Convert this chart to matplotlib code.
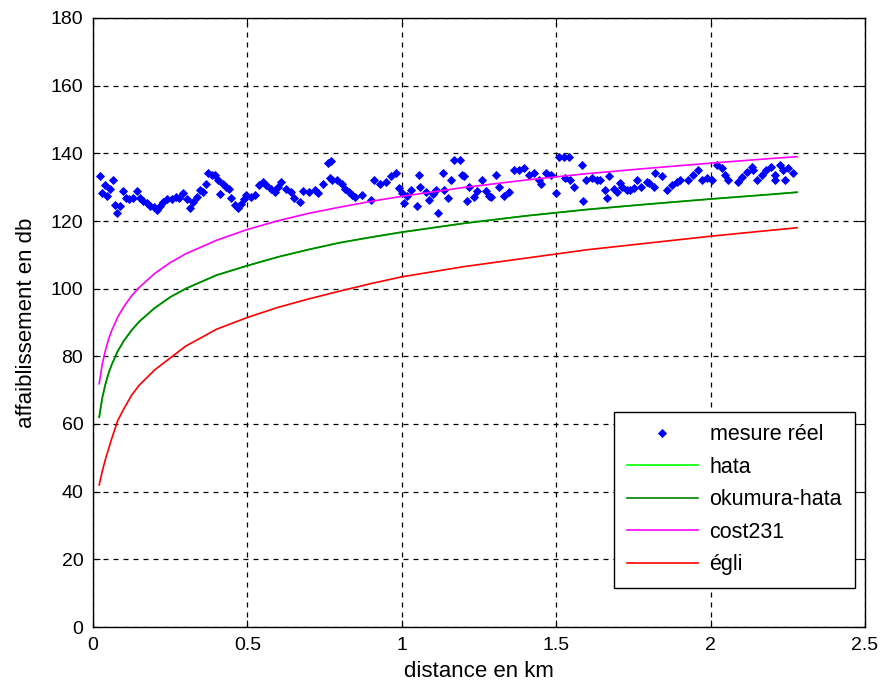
import numpy as np
import matplotlib
matplotlib.use("Agg")
import matplotlib.pyplot as plt

plt.rcParams['font.family'] = ['Liberation Sans', 'DejaVu Sans']

# measured points (distance km, attenuation dB)
meas_d = [0.022,0.030,0.038,0.046,0.055,0.064,0.070,0.077,0.087,0.098,0.108,0.118,0.130,0.141,0.152,0.163,0.174,0.185,0.196,0.206,
          0.216,0.228,0.240,0.255,0.268,0.280,0.292,0.305,0.314,0.325,0.336,0.346,0.357,0.366,0.374,0.384,
          0.394,0.405,0.411,0.420,0.430,0.440,0.448,0.459,0.470,0.480,0.490,0.496,0.512,0.523,0.538,0.550,0.560,0.575,0.588,0.598,
          0.610,0.626,0.640,0.650,0.669,0.680,0.698,0.718,0.730,0.745,0.761,0.766,0.770,
          0.775,0.790,0.806,0.817,0.828,0.838,0.850,0.870,0.900,0.910,0.930,0.948,0.965,0.981,0.992,1.000,1.008,1.018,1.030,1.050,
          1.057,1.060,1.078,1.089,1.100,1.110,1.116,1.132,1.138,1.148,
          1.160,1.169,1.190,1.195,1.200,1.210,1.218,1.234,1.245,1.261,1.272,1.283,1.290,1.304,1.315,1.330,1.347,1.363,1.380,1.396,
          1.412,1.428,1.444,1.450,1.466,1.482,1.498,1.509,1.525,1.530,
          1.540,1.546,1.557,1.584,1.586,1.595,1.616,1.632,1.643,1.659,1.665,1.670,1.686,1.697,1.708,1.713,1.729,1.740,1.751,1.762,
          1.773,1.794,1.800,1.816,1.821,1.843,1.859,1.875,1.891,1.902,
          1.928,1.944,1.960,1.971,1.987,2.003,2.020,2.036,2.047,2.057,2.090,2.101,2.117,2.133,2.138,2.149,2.165,2.181,2.197,2.208,
          2.210,2.224,2.235,2.240,2.251,2.267]
meas_v = [133.2,128.2,130.5,127.5,129.5,132.0,124.8,122.3,124.3,129.0,126.8,126.5,126.8,129.0,126.7,126.0,125.2,124.5,124.0,123.3,
          124.3,125.7,126.4,126.5,127.0,126.8,128.2,126.5,123.8,125.5,127.0,129.2,128.5,131.0,134.1,133.5,
          133.6,132.0,128.0,131.0,130.0,129.5,126.7,124.8,123.8,125.0,126.5,127.7,127.2,127.7,130.5,131.6,130.6,129.6,128.7,130.0,
          131.6,129.6,128.7,126.7,125.7,129.0,128.7,129.2,128.2,131.0,137.0,132.6,137.6,
          132.0,132.0,131.0,129.6,128.7,127.7,127.2,127.7,126.2,132.0,131.0,131.6,133.2,134.1,129.7,128.2,125.2,127.5,129.2,124.3,
          133.6,130.1,128.7,126.2,128.0,129.2,122.3,134.1,129.2,126.7,
          132.0,138.1,138.0,133.6,133.2,126.0,130.0,127.0,129.0,132.0,129.0,127.5,127.0,133.6,130.0,127.5,128.6,135.0,135.0,135.6,
          133.6,134.1,132.0,131.0,134.1,133.6,128.2,139.0,139.0,132.6,
          139.0,132.0,130.1,136.6,126.0,132.0,132.6,132.0,132.0,129.2,126.7,133.2,129.6,128.7,131.1,130.1,129.2,129.2,129.7,132.0,
          130.1,131.6,131.1,130.1,134.1,133.2,129.2,130.6,131.6,132.0,
          132.0,133.6,135.1,132.0,132.6,132.0,136.6,135.6,133.6,132.0,131.6,133.1,134.6,136.1,135.1,132.0,133.6,135.1,136.1,133.6,
          132.0,136.6,135.1,132.0,135.6,134.1]

# model curves
model_d = [0.02,0.03,0.04,0.05,0.06,0.08,0.1,0.125,0.15,0.2,0.25,0.3,0.4,0.5,0.6,0.7,0.8,0.9,1.0,1.2,1.4,1.6,1.8,2.0,2.2,2.28]
cost231 = [71.9,77.7,81.7,84.9,87.5,91.6,94.7,97.9,100.4,104.5,107.7,110.3,114.3,117.5,120.1,122.3,124.1,125.8,127.3,129.9,
           132.1,134.0,135.6,137.1,138.5,139.0]
okumura = [62.0,67.7,71.7,74.9,77.4,81.5,84.6,87.7,90.3,94.3,97.5,100.0,104.0,106.8,109.4,111.6,113.6,115.2,116.7,119.3,
           121.5,123.4,125.0,126.5,127.9,128.5]
hata = okumura
egli = [42.0,46.0,49.5,52.5,55.5,61.0,64.5,68.5,71.5,76.0,79.5,83.0,88.0,91.5,94.5,97.0,99.3,101.5,103.5,106.5,
        109.0,111.5,113.5,115.5,117.3,118.0]

fig = plt.figure(figsize=(8.82, 6.88), dpi=100)
ax = fig.add_axes([93/882, 1-627/688, 772/882, 609/688])

ax.plot(meas_d, meas_v, linestyle='none', marker='D', markersize=4.0, markeredgewidth=0.6,
        color='#0000ff', label='mesure réel')
ax.plot(model_d, hata, color='#00ff00', lw=1.2, label='hata')
ax.plot(model_d, okumura, color='#008000', lw=1.2, label='okumura-hata')
ax.plot(model_d, cost231, color='#ff00ff', lw=1.2, label='cost231')
ax.plot(model_d, egli, color='#ff0000', lw=1.2, label='égli')

ax.set_xlim(0, 2.5)
ax.set_ylim(0, 180)
ax.set_xticks([0, 0.5, 1, 1.5, 2, 2.5])
ax.set_xticklabels(['0', '0.5', '1', '1.5', '2', '2.5'])
ax.set_yticks(np.arange(0, 181, 20))
ax.grid(True, color='black', linestyle=(0, (4, 4)), linewidth=0.9)
ax.tick_params(direction='in', top=True, right=True, labelsize=14, length=5, color='black', pad=7)
for s in ax.spines.values():
    s.set_linewidth(1.0)
    s.set_color('black')
ax.set_xlabel('distance en km', fontsize=16, labelpad=5)
ax.set_ylabel('affaiblissement en db', fontsize=16, labelpad=10)

leg = ax.legend(loc='lower right', bbox_to_anchor=(0.987, 0.064), fontsize=15.5, frameon=True,
                fancybox=False, edgecolor='black', framealpha=1, handlelength=3.3,
                labelspacing=0.53, borderpad=0.6, handletextpad=0.55, borderaxespad=0)
leg.get_frame().set_linewidth(1.0)

fig.savefig('out.png', dpi=100)
